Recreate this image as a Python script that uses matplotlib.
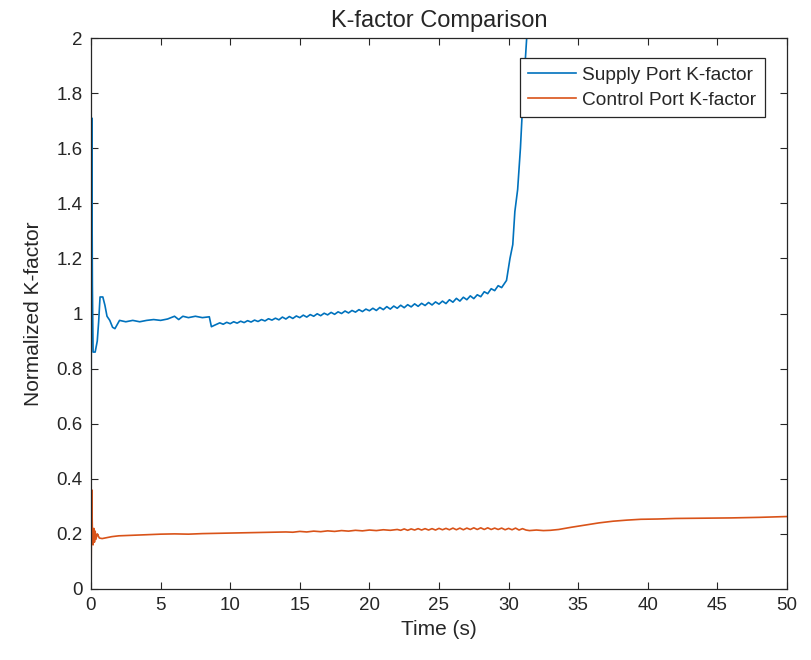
import numpy as np
import matplotlib.pyplot as plt

plt.rcParams['font.family'] = ['Liberation Sans', 'DejaVu Sans']

# Supply port K-factor: start-up transient and early plateau
supply_t_start = [0, 0.05, 0.1, 0.15, 0.3, 0.45, 0.55, 0.65, 0.85, 1.0, 1.15, 1.35, 1.55, 1.72,
                  2.05, 2.5, 3.0, 3.5, 4.0, 4.5, 5.0, 5.5, 6.0, 6.3, 6.6, 7.0, 7.5, 8.0,
                  8.5, 8.65, 8.9]
supply_v_start = [0.37, 1.71, 1.10, 0.86, 0.86, 0.90, 0.97, 1.06, 1.06, 1.03, 0.99, 0.975, 0.95, 0.945,
                  0.975, 0.97, 0.975, 0.97, 0.975, 0.978, 0.975, 0.98, 0.99, 0.978, 0.99, 0.985, 0.99, 0.985,
                  0.988, 0.952, 0.958]

# Supply port K-factor: slow oscillating rise, sampled every 0.25 s from 9.25 s to 29.5 s
supply_t_mid = np.arange(9.25, 29.51, 0.25)
supply_v_mid = [0.966, 0.961, 0.968, 0.963, 0.970, 0.965, 0.972, 0.967, 0.974, 0.969,
                0.976, 0.971, 0.978, 0.973, 0.981, 0.976, 0.983, 0.977, 0.987, 0.980,
                0.989, 0.982, 0.991, 0.985, 0.994, 0.987, 0.996, 0.990, 0.999, 0.992,
                1.001, 0.995, 1.004, 0.997, 1.006, 1.000, 1.009, 1.002, 1.011, 1.005,
                1.014, 1.007, 1.016, 1.010, 1.019, 1.011, 1.022, 1.014, 1.025, 1.016,
                1.027, 1.019, 1.030, 1.021, 1.032, 1.024, 1.035, 1.026, 1.037, 1.029,
                1.040, 1.031, 1.042, 1.034, 1.045, 1.036, 1.050, 1.041, 1.055, 1.045,
                1.059, 1.050, 1.064, 1.054, 1.068, 1.061, 1.079, 1.072, 1.090, 1.083,
                1.101, 1.094]

# Supply port K-factor: runaway after ~30 s
supply_t_end = [29.85, 30.1, 30.3, 30.45, 30.65, 30.85, 31.05, 31.3, 31.5, 31.8]
supply_v_end = [1.12, 1.20, 1.25, 1.37, 1.45, 1.60, 1.80, 2.00, 2.30, 2.70]

# Control port K-factor
control_t = [0, 0.05, 0.1, 0.15, 0.2, 0.25, 0.3, 0.35, 0.45, 0.6, 0.8, 1.0, 1.5, 2, 3, 4, 5, 6, 7, 8,
             9, 10, 11, 12, 13, 14,
             14.5, 15, 15.5, 16, 16.5, 17, 17.5, 18, 18.5, 19, 19.5, 20, 20.5, 21, 21.5, 22,
             22.25, 22.5, 22.75, 23, 23.25, 23.5, 23.75, 24, 24.25, 24.5, 24.75, 25, 25.25, 25.5,
             25.75, 26, 26.25, 26.5, 26.75, 27, 27.25, 27.5, 27.75, 28, 28.25, 28.5, 28.75, 29,
             29.25, 29.5, 29.75, 30, 30.25, 30.5, 30.75, 31, 31.25, 31.5,
             32, 32.5, 33, 33.6, 34.5, 35.5, 36.5, 37.5, 38.5, 39.5, 40.7, 42, 44, 46, 48, 50]
control_v = [0.0, 0.36, 0.21, 0.16, 0.22, 0.17, 0.21, 0.18, 0.20, 0.185, 0.183, 0.185, 0.19, 0.193,
             0.195, 0.197, 0.199, 0.200, 0.199, 0.201, 0.202, 0.203, 0.204, 0.205, 0.206, 0.207,
             0.206, 0.209, 0.207, 0.210, 0.208, 0.211, 0.209, 0.212, 0.210, 0.213, 0.211, 0.214,
             0.212, 0.215, 0.213, 0.216,
             0.213, 0.218, 0.213, 0.218, 0.214, 0.219, 0.214, 0.219, 0.214, 0.219, 0.214, 0.220,
             0.215, 0.220, 0.215, 0.221, 0.215, 0.221, 0.215, 0.221, 0.216, 0.222, 0.216, 0.222,
             0.216, 0.222, 0.216, 0.221, 0.216, 0.221, 0.215, 0.220, 0.215, 0.221, 0.214, 0.219,
             0.214, 0.212,
             0.214, 0.212, 0.213, 0.216, 0.224, 0.232, 0.240, 0.246, 0.250, 0.253, 0.254, 0.256,
             0.257, 0.258, 0.260, 0.263]

supply_t = np.concatenate([supply_t_start, supply_t_mid, supply_t_end])
supply_v = np.concatenate([supply_v_start, supply_v_mid, supply_v_end])

fig = plt.figure(figsize=(8.11, 6.6), dpi=100)
ax = fig.add_axes([0.1122, 0.1076, 0.8582, 0.8348])

ax.plot(supply_t, supply_v, color='#0072BD', linewidth=1.2, label='Supply Port K-factor')
ax.plot(control_t, control_v, color='#D95319', linewidth=1.2, label='Control Port K-factor')

ax.set_xlim(0, 50)
ax.set_ylim(0, 2)
ax.set_xticks(np.arange(0, 51, 5))
ax.set_yticks(np.arange(0, 2.01, 0.2))
ax.set_yticklabels(['0', '0.2', '0.4', '0.6', '0.8', '1', '1.2', '1.4', '1.6', '1.8', '2'])

text_color = '#262626'
ax.tick_params(direction='in', length=5, width=0.8, top=True, right=True,
               labelsize=13.5, colors=text_color, pad=6)
for s in ax.spines.values():
    s.set_color(text_color)
    s.set_linewidth(0.9)

ax.set_title('K-factor Comparison', fontsize=17, color=text_color, pad=8)
ax.set_xlabel('Time (s)', fontsize=15, color=text_color, labelpad=4)
ax.set_ylabel('Normalized K-factor', fontsize=15, color=text_color, labelpad=10)

leg = ax.legend(loc='upper right', bbox_to_anchor=(0.968, 0.9636), borderaxespad=0,
                fontsize=13.8, fancybox=False, framealpha=1, edgecolor=text_color,
                handlelength=2.5, handletextpad=0.3, borderpad=0.45, labelspacing=0.38)
leg.get_frame().set_linewidth(0.9)
for t in leg.get_texts():
    t.set_color(text_color)

fig.savefig('out.png', dpi=100)
